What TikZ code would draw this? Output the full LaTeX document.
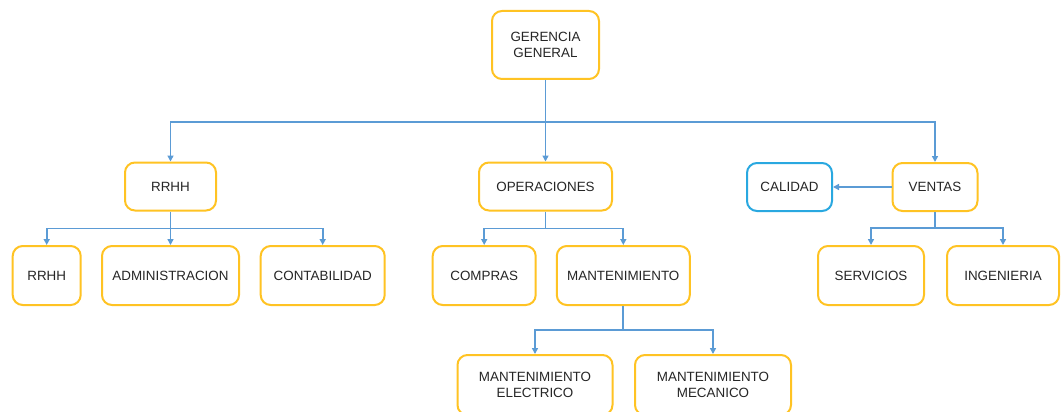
\documentclass[tikz,border=0pt]{standalone}
\usepackage{fontspec}
\setmainfont{Liberation Sans}
\usetikzlibrary{arrows.meta}
\definecolor{boxorange}{HTML}{FFC323}
\definecolor{linkblue}{HTML}{5B9BD5}
\definecolor{calblue}{HTML}{29A8E0}
\definecolor{txt}{HTML}{262626}
\tikzset{
  orgbox/.style={draw=boxorange, line width=2pt, rounded corners=10pt, fill=white,
    inner sep=0pt, align=center, text=txt, font=\fontsize{13.4}{16}\selectfont},
  calbox/.style={orgbox, draw=calblue},
  conn/.style={draw=linkblue, line width=1.8pt},
  arr/.style={conn, -{Triangle[length=6pt,width=6pt]}}
}
\begin{document}
\begin{tikzpicture}[x=1pt,y=-1pt]
\path[use as bounding box, clip] (0,0) rectangle (1063,412);
\fill[white] (0,0) rectangle (1063,412);
% level 0
\node[orgbox, minimum width=107pt, minimum height=68pt] (ger) at (545.5,45) {GERENCIA\\GENERAL};
% level 1
\node[orgbox, minimum width=91pt, minimum height=48pt] (rrhh) at (170.5,186.5) {RRHH};
\node[orgbox, minimum width=133pt, minimum height=48pt] (ope) at (545.5,186.5) {OPERACIONES};
\node[orgbox, minimum width=85pt, minimum height=48pt] (ven) at (935,187) {VENTAS};
\node[calbox, minimum width=85pt, minimum height=48pt] (cal) at (789.5,187) {CALIDAD};
% level 2
\node[orgbox, minimum width=68pt, minimum height=59pt] (rrhh2) at (46.7,275.5) {RRHH};
\node[orgbox, minimum width=137pt, minimum height=59pt] (adm) at (170.5,275.5) {ADMINISTRACION};
\node[orgbox, minimum width=124pt, minimum height=59pt] (con) at (322.7,275.5) {CONTABILIDAD};
\node[orgbox, minimum width=103pt, minimum height=59pt] (com) at (484.2,275.5) {COMPRAS};
\node[orgbox, minimum width=133pt, minimum height=59pt] (man) at (623.3,275.5) {MANTENIMIENTO};
\node[orgbox, minimum width=106pt, minimum height=59pt] (ser) at (871,275.5) {SERVICIOS};
\node[orgbox, minimum width=112pt, minimum height=59pt] (ing) at (1003,275.5) {INGENIERIA};
% level 3
\node[orgbox, minimum width=155pt, minimum height=60pt] (mel) at (535,385) {MANTENIMIENTO\\ELECTRICO};
\node[orgbox, minimum width=156pt, minimum height=60pt] (mme) at (713,385) {MANTENIMIENTO\\MECANICO};
% connectors
\draw[conn] (ger.south) -- ++(0,42) coordinate (j0);
\draw[arr] (j0) -| (rrhh.north);
\draw[arr] (j0) -- (ope.north);
\draw[arr] (j0) -| (ven.north);

\draw[conn] (rrhh.south) -- ++(0,17) coordinate (j1);
\draw[arr] (j1) -| (rrhh2.north);
\draw[arr] (j1) -- (adm.north);
\draw[arr] (j1) -| (con.north);

\draw[conn] (ope.south) -- ++(0,17) coordinate (j2);
\draw[arr] (j2) -| (com.north);
\draw[arr] (j2) -| (man.north);

\draw[conn] (ven.south) -- ++(0,16) coordinate (j3);
\draw[arr] (j3) -| (ser.north);
\draw[arr] (j3) -| (ing.north);

\draw[arr] (ven.west) -- (cal.east);

\draw[conn] (man.south) -- ++(0,24) coordinate (j4);
\draw[arr] (j4) -| (mel.north);
\draw[arr] (j4) -| (mme.north);
\end{tikzpicture}
\end{document}
